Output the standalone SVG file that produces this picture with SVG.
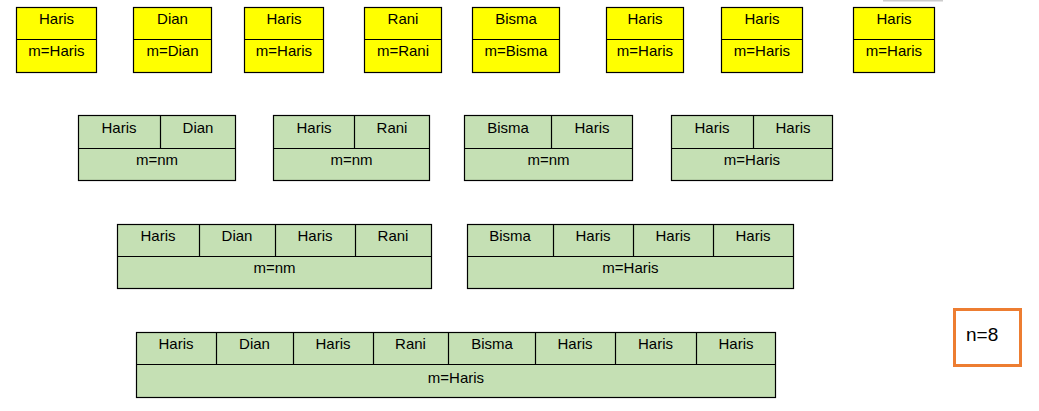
<svg xmlns="http://www.w3.org/2000/svg" width="1039" height="411" viewBox="0 0 1039 411">
<style>
.y{fill:#FFFF00;stroke:#000;stroke-width:1.2}
.g{fill:#C5E0B4;stroke:#000;stroke-width:1.2}
.l{stroke:#000;stroke-width:1.2;fill:none}
text{font-family:"Liberation Sans",Arial,sans-serif;font-size:15px;fill:#000;text-anchor:middle}
.n{font-size:19px;text-anchor:start}
</style>
<rect width="1039" height="411" fill="#fff"/>
<rect x="883" y="0" width="60" height="1.5" fill="#ccc"/>
<g id="y1"><rect class="y" x="16.5" y="7.5" width="80" height="65"/><line class="l" x1="16.5" y1="39.5" x2="96.5" y2="39.5"/><text x="56.5" y="24">Haris</text><text x="56.5" y="56">m=Haris</text></g>
<g id="y2"><rect class="y" x="133.5" y="7.5" width="78" height="65"/><line class="l" x1="133.5" y1="39.5" x2="211.5" y2="39.5"/><text x="172.5" y="24">Dian</text><text x="172.5" y="56">m=Dian</text></g>
<g id="y3"><rect class="y" x="244.5" y="7.5" width="79" height="65"/><line class="l" x1="244.5" y1="39.5" x2="323.5" y2="39.5"/><text x="284" y="24">Haris</text><text x="284" y="56">m=Haris</text></g>
<g id="y4"><rect class="y" x="364.5" y="7.5" width="77" height="65"/><line class="l" x1="364.5" y1="39.5" x2="441.5" y2="39.5"/><text x="403" y="24">Rani</text><text x="403" y="56">m=Rani</text></g>
<g id="y5"><rect class="y" x="472.5" y="7.5" width="87" height="65"/><line class="l" x1="472.5" y1="39.5" x2="559.5" y2="39.5"/><text x="516" y="24">Bisma</text><text x="516" y="56">m=Bisma</text></g>
<g id="y6"><rect class="y" x="606.5" y="7.5" width="77" height="65"/><line class="l" x1="606.5" y1="39.5" x2="683.5" y2="39.5"/><text x="645" y="24">Haris</text><text x="645" y="56">m=Haris</text></g>
<g id="y7"><rect class="y" x="721.5" y="7.5" width="81" height="65"/><line class="l" x1="721.5" y1="39.5" x2="802.5" y2="39.5"/><text x="762" y="24">Haris</text><text x="762" y="56">m=Haris</text></g>
<g id="y8"><rect class="y" x="853.5" y="7.5" width="81" height="65"/><line class="l" x1="853.5" y1="39.5" x2="934.5" y2="39.5"/><text x="894" y="24">Haris</text><text x="894" y="56">m=Haris</text></g>

<g id="p1"><rect class="g" x="78.5" y="115.5" width="157" height="65"/><line class="l" x1="78.5" y1="148.5" x2="235.5" y2="148.5"/><line class="l" x1="160.5" y1="115.5" x2="160.5" y2="148.5"/><text x="119" y="133">Haris</text><text x="198" y="133">Dian</text><text x="157" y="165">m=nm</text></g>
<g id="p2"><rect class="g" x="273.5" y="115.5" width="156" height="65"/><line class="l" x1="273.5" y1="148.5" x2="429.5" y2="148.5"/><line class="l" x1="354.5" y1="115.5" x2="354.5" y2="148.5"/><text x="314" y="133">Haris</text><text x="392" y="133">Rani</text><text x="351.5" y="165">m=nm</text></g>
<g id="p3"><rect class="g" x="464.5" y="115.5" width="168" height="65"/><line class="l" x1="464.5" y1="148.5" x2="632.5" y2="148.5"/><line class="l" x1="551.5" y1="115.5" x2="551.5" y2="148.5"/><text x="508" y="133">Bisma</text><text x="592" y="133">Haris</text><text x="548.5" y="165">m=nm</text></g>
<g id="p4"><rect class="g" x="671.5" y="115.5" width="161" height="65"/><line class="l" x1="671.5" y1="148.5" x2="832.5" y2="148.5"/><line class="l" x1="753.5" y1="115.5" x2="753.5" y2="148.5"/><text x="712" y="133">Haris</text><text x="793" y="133">Haris</text><text x="752" y="165">m=Haris</text></g>

<g id="q1"><rect class="g" x="117.5" y="224.5" width="314" height="64"/><line class="l" x1="117.5" y1="256.5" x2="431.5" y2="256.5"/><line class="l" x1="199.5" y1="224.5" x2="199.5" y2="256.5"/><line class="l" x1="275.5" y1="224.5" x2="275.5" y2="256.5"/><line class="l" x1="355.5" y1="224.5" x2="355.5" y2="256.5"/><text x="158" y="241">Haris</text><text x="237" y="241">Dian</text><text x="315" y="241">Haris</text><text x="393" y="241">Rani</text><text x="274.5" y="273">m=nm</text></g>
<g id="q2"><rect class="g" x="467.5" y="224.5" width="326" height="64"/><line class="l" x1="467.5" y1="256.5" x2="793.5" y2="256.5"/><line class="l" x1="553.5" y1="224.5" x2="553.5" y2="256.5"/><line class="l" x1="633.5" y1="224.5" x2="633.5" y2="256.5"/><line class="l" x1="713.5" y1="224.5" x2="713.5" y2="256.5"/><text x="510" y="241">Bisma</text><text x="593" y="241">Haris</text><text x="673" y="241">Haris</text><text x="753" y="241">Haris</text><text x="630.5" y="273">m=Haris</text></g>

<g id="r1"><rect class="g" x="136.5" y="332.5" width="639" height="65"/><line class="l" x1="136.5" y1="364.5" x2="775.5" y2="364.5"/><line class="l" x1="216.5" y1="332.5" x2="216.5" y2="364.5"/><line class="l" x1="293.5" y1="332.5" x2="293.5" y2="364.5"/><line class="l" x1="373.5" y1="332.5" x2="373.5" y2="364.5"/><line class="l" x1="448.5" y1="332.5" x2="448.5" y2="364.5"/><line class="l" x1="535.5" y1="332.5" x2="535.5" y2="364.5"/><line class="l" x1="615.5" y1="332.5" x2="615.5" y2="364.5"/><line class="l" x1="696.5" y1="332.5" x2="696.5" y2="364.5"/><text x="176" y="349">Haris</text><text x="254.5" y="349">Dian</text><text x="333" y="349">Haris</text><text x="410.5" y="349">Rani</text><text x="492" y="349">Bisma</text><text x="575" y="349">Haris</text><text x="655.5" y="349">Haris</text><text x="736" y="349">Haris</text><text x="456" y="383">m=Haris</text></g>

<g id="n"><rect x="954.5" y="309.5" width="66" height="56" fill="#fff" stroke="#ED7D31" stroke-width="3"/><text class="n" x="966" y="341">n=8</text></g>
<g id="connectors"></g>
</svg>
